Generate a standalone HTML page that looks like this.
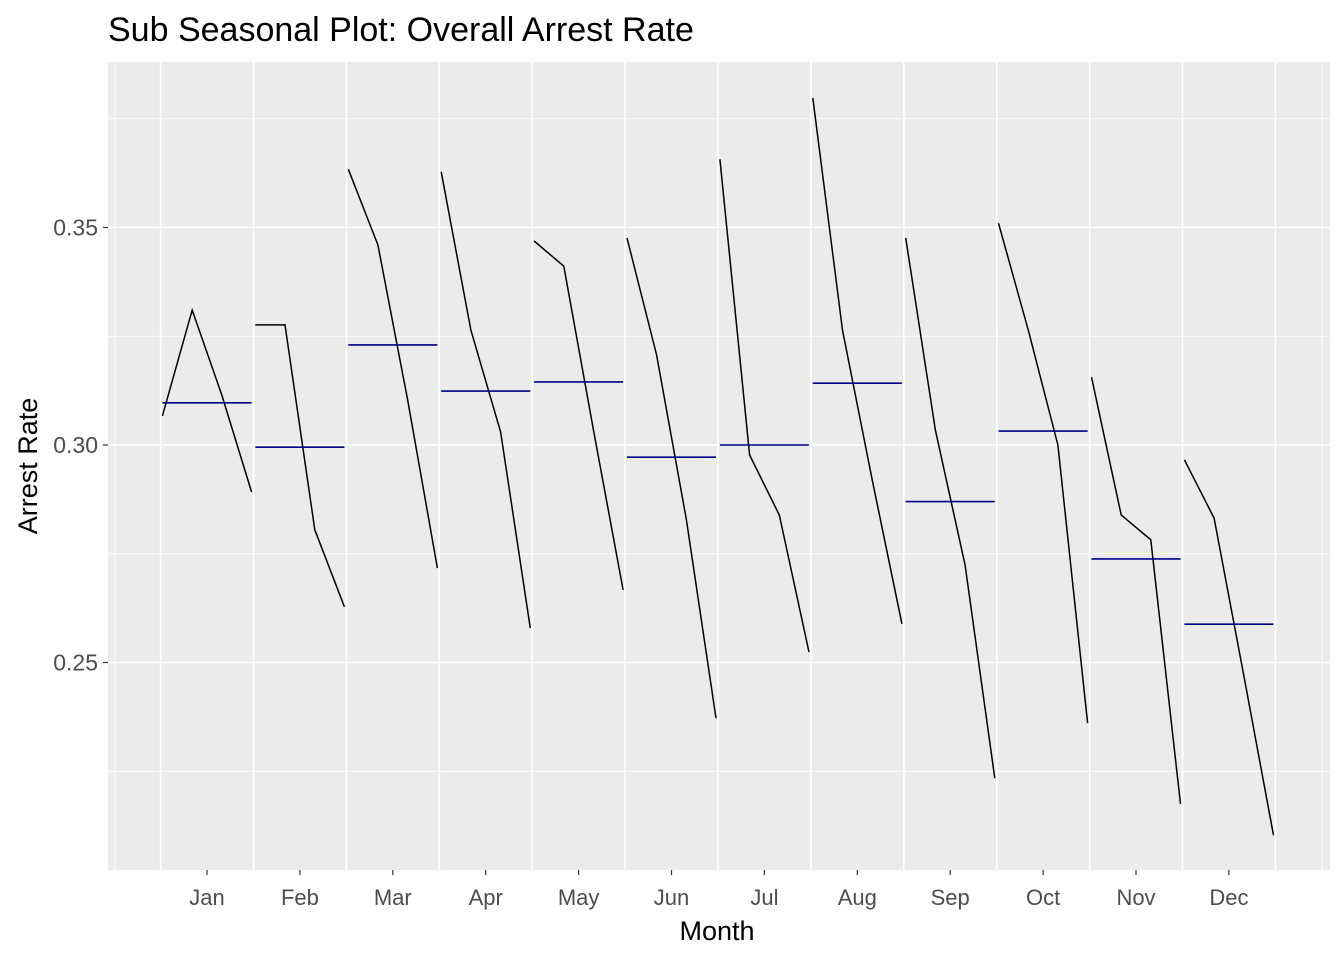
<!DOCTYPE html>
<html><head><meta charset="utf-8"><style>
body{margin:0;background:#fff;}
svg{display:block;font-family:"Liberation Sans",Arial,sans-serif;}
</style></head><body>
<svg id="chart" width="1344" height="960">
<text x="108" y="41" font-size="34" fill="#000">Sub Seasonal Plot: Overall Arrest Rate</text>
<rect x="108" y="62" width="1222" height="808" fill="#ebebeb"/>
<g id="grid"></g><g id="series"></g><g id="axes"></g>
<text x="717" y="940" font-size="27" text-anchor="middle">Month</text>
<text transform="translate(37,466) rotate(-90)" font-size="27" text-anchor="middle">Arrest Rate</text>
</svg>
<script>
const months=["Jan","Feb","Mar","Apr","May","Jun","Jul","Aug","Sep","Oct","Nov","Dec"];
const jan=[0.3067,0.3310,0.3115,0.2892];
const feb=[0.3276,0.3276,0.2805,0.2628];
const mar=[0.3634,0.3460,0.3103,0.2717];
const apr=[0.3628,0.3264,0.3030,0.2579];
const may=[0.3469,0.3411,0.3034,0.2667];
const jun=[0.3476,0.3207,0.2828,0.2372];
const jul=[0.3657,0.2977,0.2839,0.2524];
const aug=[0.3798,0.3264,0.2920,0.2589];
const sep=[0.3476,0.3034,0.2724,0.2234];
const oct=[0.3510,0.3264,0.3000,0.2361];
const nov=[0.3156,0.2839,0.2782,0.2175];
const dec=[0.2966,0.2832,0.2470,0.2103];
const means=[0.3097,0.2995,0.3230,0.3124,0.3145,0.2972,0.3000,0.3142,0.2870,0.3032,0.2738,0.2588];
const yTicks=[0.25,0.30,0.35];
const yTickLabels=["0.25","0.30","0.35"];
const yMinor=[0.225,0.275,0.325,0.375];
const series=[jan,feb,mar,apr,may,jun,jul,aug,sep,oct,nov,dec];

const NS="http://www.w3.org/2000/svg";
const y=v=>445-(v-0.30)*4350;
const cx=i=>207+i*92.9;
const px=(i,j,n)=>cx(i)+(j-(n-1)/2)*29.7;
function mk(tag,attrs,parent){const e=document.createElementNS(NS,tag);for(const k in attrs)e.setAttribute(k,attrs[k]);document.getElementById(parent).appendChild(e);return e;}

yMinor.forEach(v=>{const l=mk("line",{x1:108,x2:1330,y1:y(v),y2:y(v),stroke:"#fff","stroke-width":0.8},"grid");

});
yTicks.forEach((v,k)=>{const l=mk("line",{x1:108,x2:1330,y1:y(v),y2:y(v),stroke:"#fff","stroke-width":1.6},"grid");


const t=mk("line",{x1:103,x2:108,y1:y(v),y2:y(v),stroke:"#333","stroke-width":1.2},"axes");


const tx=mk("text",{x:98,y:y(v)+8,"font-size":23,fill:"#4d4d4d","text-anchor":"end"},"axes");
tx.textContent=yTickLabels[k];

});
[115,1322].forEach(x=>{const l=mk("line",{x1:x,x2:x,y1:62,y2:870,stroke:"#fff","stroke-width":0.8},"grid");

});
for(let k=0;k<=months.length;k++){const x=cx(k)-46.4;
const l=mk("line",{x1:x,x2:x,y1:62,y2:870,stroke:"#fff","stroke-width":1.6},"grid");

}
months.forEach((m,i)=>{
const t=mk("line",{x1:cx(i),x2:cx(i),y1:870,y2:875,stroke:"#333","stroke-width":1.2},"axes");


const tx=mk("text",{x:cx(i),y:905,"font-size":22,fill:"#4d4d4d","text-anchor":"middle"},"axes");
tx.textContent=m;


const vals=series[i];
const pts=vals.map((v,j)=>px(i,j,vals.length).toFixed(1)+","+y(v).toFixed(1)).join(" ");
const pl=mk("polyline",{points:pts,fill:"none",stroke:"#000","stroke-width":1.5},"series");


const ml=mk("line",{x1:px(i,0,vals.length),x2:px(i,vals.length-1,vals.length),y1:y(means[i]),y2:y(means[i]),stroke:"#00008b","stroke-width":1.6},"series");


});
</script>
</body></html>
